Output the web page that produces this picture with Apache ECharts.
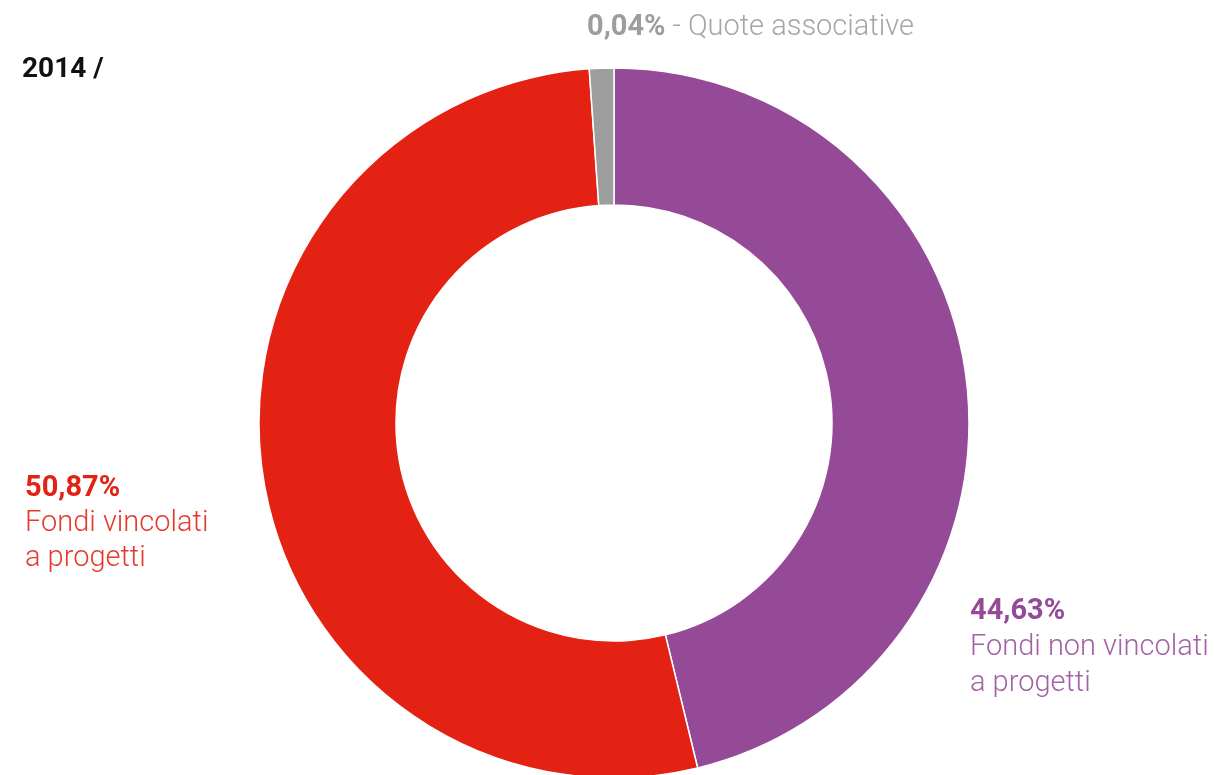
<!DOCTYPE html>
<html>
<head>
<meta charset="utf-8">
<script src="https://cdn.jsdelivr.net/npm/echarts@6/dist/echarts.min.js"></script>
<style>
  html, body { margin: 0; padding: 0; background: #ffffff; }
  #chart { width: 1214px; height: 775px; }
</style>
</head>
<body>
<div id="chart"></div>
<script>
// Fund sources, 2014 (percent of total)
const categories = ['Fondi non vincolati a progetti', 'Fondi vincolati a progetti', 'Quote associative'];
const shares = [44.63, 50.87, 0.04];
const colors = ['#954a97', '#e32213', '#9d9d9d'];
const yearLabel = '2014 /';

const FONT = 'Roboto, "Open Sans", sans-serif';
const fmt = v => v.toFixed(2).replace('.', ',') + '%';

const chart = echarts.init(document.getElementById('chart'), null, { renderer: 'canvas' });

chart.setOption({
  backgroundColor: '#ffffff',
  animation: false,
  series: [{
    type: 'pie',
    center: [614, 423],
    radius: [218, 355],
    startAngle: 90,
    clockwise: true,
    minAngle: 4,
    avoidLabelOverlap: false,
    label: { show: false },
    labelLine: { show: false },
    itemStyle: { borderColor: '#ffffff', borderWidth: 1.5 },
    emphasis: { disabled: true },
    data: categories.map((name, i) => ({
      name, value: shares[i], itemStyle: { color: colors[i] }
    }))
  }],
  graphic: [
    {
      type: 'text', left: 22, top: 56,
      style: { text: yearLabel, font: 'bold 28px ' + FONT, fill: '#111111' }
    },
    {
      type: 'text', left: 587, top: 13,
      style: {
        text: '{b|' + fmt(shares[2]) + '}{l| - Quote associative}',
        rich: {
          b: { font: 'bold 29px ' + FONT, fill: '#9d9d9d' },
          l: { font: '300 29px ' + FONT, fill: '#a6a6a6' }
        }
      }
    },
    {
      type: 'text', left: 25, top: 474,
      style: {
        text: '{b|' + fmt(shares[1]) + '}\n{l|Fondi vincolati}\n{l|a progetti}',
        rich: {
          b: { font: 'bold 29px ' + FONT, fill: '#e32213', lineHeight: 35 },
          l: { font: '300 29px ' + FONT, fill: '#e6392c', lineHeight: 35 }
        }
      }
    },
    {
      type: 'text', left: 970, top: 597,
      style: {
        text: '{b|' + fmt(shares[0]) + '}\n{l|Fondi non vincolati}\n{l|a progetti}',
        rich: {
          b: { font: 'bold 29px ' + FONT, fill: '#954a97', lineHeight: 36 },
          l: { font: '300 29px ' + FONT, fill: '#a262a4', lineHeight: 36 }
        }
      }
    }
  ]
});
</script>
</body>
</html>
